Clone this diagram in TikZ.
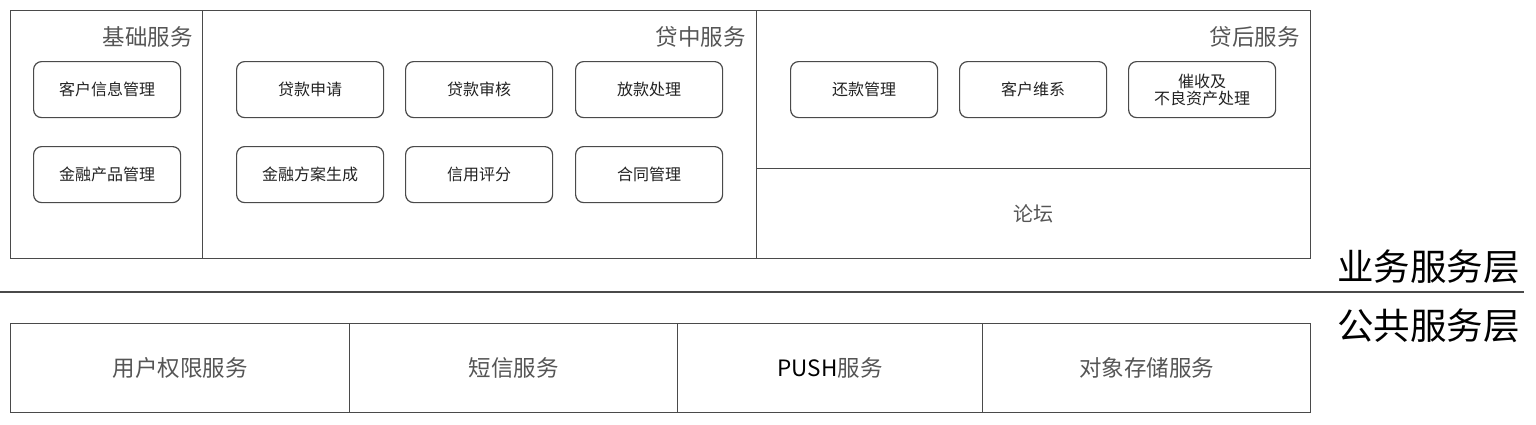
\documentclass[tikz,border=0pt]{standalone}
\usepackage{fontspec}
\setmainfont{Noto Sans CJK SC}
\definecolor{linec}{HTML}{4A4A4A}
\definecolor{titlec}{HTML}{555555}
\definecolor{textc}{HTML}{222222}
\begin{document}
\begin{tikzpicture}[x=1bp,y=-1bp,
  panel/.style={draw=linec, line width=1.3bp, inner sep=0pt, anchor=north west},
  item/.style={draw=linec, line width=1.2bp, rounded corners=8bp, anchor=north west,
    minimum width=147bp, minimum height=56bp, inner sep=0pt, align=center,
    text=textc, font=\fontsize{16bp}{18bp}\selectfont},
  ptitle/.style={anchor=east, text=titlec, inner sep=0pt, font=\fontsize{22.5bp}{25bp}\selectfont},
  layer/.style={anchor=east, text=black, inner sep=0pt, font=\fontsize{36.5bp}{40bp}\selectfont},
  common/.style={draw=linec, line width=1.3bp, inner sep=0pt, anchor=north west,
    minimum height=89bp, text=titlec, font=\fontsize{22.5bp}{25bp}\selectfont}
]
\useasboundingbox (0,0) rectangle (1536,424);

% top panels
\node[panel, minimum width=192bp, minimum height=248bp] (base) at (10,10) {};
\node[panel, minimum width=554bp, minimum height=248bp] (mid) at (202,10) {};
\node[panel, minimum width=554bp, minimum height=158bp] (post) at (756,10) {};
\node[panel, minimum width=554bp, minimum height=90bp, text=titlec,
  font=\fontsize{20bp}{22bp}\selectfont] (forum) at (756,168) {论坛};

\node[ptitle] (t1) at (193,37) {基础服务};
\node[ptitle] (t2) at (746,37) {贷中服务};
\node[ptitle] (t3) at (1300,37) {贷后服务};

% items
\node[item] (kh) at (33,61) {客户信息管理};
\node[item] (jr) at (33,146) {金融产品管理};
\node[item] (sq) at (236,61) {贷款申请};
\node[item] (sh) at (405,61) {贷款审核};
\node[item] (fk) at (575,61) {放款处理};
\node[item] (fa) at (236,146) {金融方案生成};
\node[item] (pf) at (405,146) {信用评分};
\node[item] (ht) at (575,146) {合同管理};
\node[item] (hk) at (790,61) {还款管理};
\node[item] (wx) at (959,61) {客户维系};
\node[item, font=\fontsize{16bp}{17bp}\selectfont] (cs) at (1128,61) {催收及\\不良资产处理};

% layer separator
\coordinate (l0) at (0,292);
\coordinate (l1) at (1524,292);
\draw[draw=linec, line width=1.3bp] (l0) -- (l1);
\node[layer] (ly1) at (1520,267) {业务服务层};
\node[layer] (ly2) at (1520,326) {公共服务层};

% common services
\node[common, minimum width=339bp] (c1) at (10,323) {用户权限服务};
\node[common, minimum width=328bp] (c2) at (349,323) {短信服务};
\node[common, minimum width=305bp] (c3) at (677,323) {\textcolor{black}{PUSH}服务};
\node[common, minimum width=328bp] (c4) at (982,323) {对象存储服务};
\end{tikzpicture}
\end{document}
